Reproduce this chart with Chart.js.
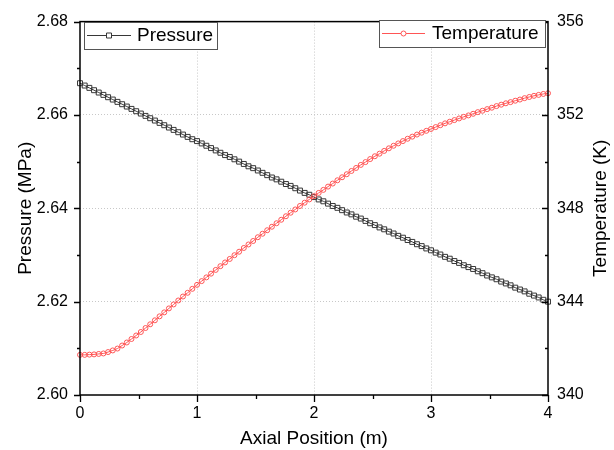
<!DOCTYPE html>
<html>
<head>
<meta charset="utf-8">
<script src="https://cdn.jsdelivr.net/npm/chart.js"></script>
<style>
  body { margin: 0; background: #fff; }
  #wrap { width: 614px; height: 450px; }
</style>
</head>
<body>
<div id="wrap"><canvas id="grafico" width="614" height="450"></canvas></div>
<script>
// posições axiais (m)
const posicoes = [
  0.00, 0.04, 0.08, 0.12, 0.16, 0.20, 0.24, 0.28, 0.32, 0.36,
  0.40, 0.44, 0.48, 0.52, 0.56, 0.60, 0.64, 0.68, 0.72, 0.76,
  0.80, 0.84, 0.88, 0.92, 0.96, 1.00, 1.04, 1.08, 1.12, 1.16,
  1.20, 1.24, 1.28, 1.32, 1.36, 1.40, 1.44, 1.48, 1.52, 1.56,
  1.60, 1.64, 1.68, 1.72, 1.76, 1.80, 1.84, 1.88, 1.92, 1.96,
  2.00, 2.04, 2.08, 2.12, 2.16, 2.20, 2.24, 2.28, 2.32, 2.36,
  2.40, 2.44, 2.48, 2.52, 2.56, 2.60, 2.64, 2.68, 2.72, 2.76,
  2.80, 2.84, 2.88, 2.92, 2.96, 3.00, 3.04, 3.08, 3.12, 3.16,
  3.20, 3.24, 3.28, 3.32, 3.36, 3.40, 3.44, 3.48, 3.52, 3.56,
  3.60, 3.64, 3.68, 3.72, 3.76, 3.80, 3.84, 3.88, 3.92, 3.96,
  4.00
];

// pressão (MPa)
const pressao = [
  2.6668, 2.6663, 2.6658, 2.6653, 2.6648, 2.6643, 2.6638, 2.6633, 2.6628, 2.6623,
  2.6618, 2.6613, 2.6608, 2.6603, 2.6598, 2.6593, 2.6588, 2.6583, 2.6578, 2.6573,
  2.6568, 2.6563, 2.6558, 2.6553, 2.6548, 2.6544, 2.6539, 2.6534, 2.6529, 2.6524,
  2.6519, 2.6514, 2.6510, 2.6505, 2.6500, 2.6495, 2.6490, 2.6486, 2.6481, 2.6476,
  2.6471, 2.6466, 2.6462, 2.6457, 2.6452, 2.6448, 2.6443, 2.6438, 2.6433, 2.6429,
  2.6424, 2.6419, 2.6415, 2.6410, 2.6405, 2.6401, 2.6396, 2.6391, 2.6387, 2.6382,
  2.6378, 2.6373, 2.6368, 2.6364, 2.6359, 2.6355, 2.6350, 2.6346, 2.6341, 2.6337,
  2.6332, 2.6328, 2.6323, 2.6319, 2.6314, 2.6310, 2.6305, 2.6301, 2.6296, 2.6292,
  2.6287, 2.6283, 2.6278, 2.6274, 2.6270, 2.6265, 2.6261, 2.6256, 2.6252, 2.6248,
  2.6243, 2.6239, 2.6235, 2.6230, 2.6226, 2.6222, 2.6217, 2.6213, 2.6209, 2.6204,
  2.6200
];

// temperatura (K)
const temperatura = [
  341.72, 341.72, 341.73, 341.74, 341.76, 341.78, 341.84, 341.91, 341.99, 342.12,
  342.25, 342.40, 342.55, 342.70, 342.87, 343.03, 343.20, 343.37, 343.54, 343.71,
  343.88, 344.05, 344.22, 344.38, 344.55, 344.72, 344.88, 345.04, 345.20, 345.36,
  345.52, 345.68, 345.83, 345.99, 346.14, 346.30, 346.45, 346.60, 346.76, 346.91,
  347.06, 347.21, 347.36, 347.51, 347.66, 347.81, 347.95, 348.10, 348.24, 348.38,
  348.52, 348.66, 348.79, 348.93, 349.06, 349.20, 349.33, 349.46, 349.60, 349.73,
  349.86, 349.98, 350.11, 350.23, 350.34, 350.46, 350.57, 350.68, 350.78, 350.88,
  350.98, 351.07, 351.16, 351.24, 351.32, 351.40, 351.48, 351.56, 351.64, 351.71,
  351.78, 351.85, 351.92, 351.98, 352.05, 352.12, 352.18, 352.25, 352.31, 352.38,
  352.44, 352.50, 352.55, 352.61, 352.66, 352.72, 352.77, 352.82, 352.86, 352.90,
  352.93
];

// ticks dos eixos
const ticksX = [0, 1, 2, 3, 4];
const ticksXMenores = [0.5, 1.5, 2.5, 3.5];
const ticksPressao = [2.60, 2.62, 2.64, 2.66, 2.68];
const ticksPressaoMenores = [2.61, 2.63, 2.65, 2.67];
const ticksTemp = [340, 344, 348, 352, 356];
const ticksTempMenores = [342, 346, 350, 354];

const FONTE = 'Arial, "Liberation Sans", sans-serif';
const COR_P = 'rgb(55, 55, 55)';
const COR_T = 'rgb(255, 85, 85)';

const dadosP = posicoes.map((x, i) => ({ x, y: pressao[i] }));
const dadosT = posicoes.map((x, i) => ({ x, y: temperatura[i] }));

// moldura, marcas de escala, título direito e legendas
const pluginMoldura = {
  id: 'moldura',
  afterDraw(chart) {
    const { ctx, chartArea: a, scales } = chart;
    ctx.save();
    ctx.strokeStyle = '#000';
    ctx.lineWidth = 1.5;
    ctx.strokeRect(a.left, a.top, a.right - a.left, a.bottom - a.top);

    ctx.lineWidth = 1.3;
    ctx.beginPath();
    const marcasY = (vals, len) => vals.forEach(v => {
      const y = Math.round(scales.y.getPixelForValue(v)) + 0.5;
      ctx.moveTo(a.left, y); ctx.lineTo(a.left - len, y);
    });
    marcasY(ticksPressao, 6); marcasY(ticksPressaoMenores, 3);
    const marcasX = (vals, len) => vals.forEach(v => {
      const x = Math.round(scales.x.getPixelForValue(v)) + 0.5;
      ctx.moveTo(x, a.bottom); ctx.lineTo(x, a.bottom + len);
    });
    marcasX(ticksX, 7); marcasX(ticksXMenores, 4);
    const marcasT = (vals, len) => vals.forEach(v => {
      const y = Math.round(scales.y1.getPixelForValue(v)) + 0.5;
      ctx.moveTo(a.right, y); ctx.lineTo(a.right - len, y);
    });
    marcasT(ticksTemp, 6); marcasT(ticksTempMenores, 3);
    ctx.stroke();

    // título do eixo direito (lido de baixo para cima)
    ctx.fillStyle = '#000';
    ctx.font = '19px ' + FONTE;
    ctx.textAlign = 'center';
    ctx.textBaseline = 'middle';
    ctx.save();
    ctx.translate(601, (a.top + a.bottom) / 2);
    ctx.rotate(-Math.PI / 2);
    ctx.fillText('Temperature (K)', 0, 0);
    ctx.restore();

    // legendas
    const legenda = (bx, by, bw, bh, lx1, lx2, my, cor, tipo, texto, tx) => {
      ctx.fillStyle = '#fff';
      ctx.fillRect(bx, by, bw, bh);
      ctx.strokeStyle = '#555';
      ctx.lineWidth = 1;
      ctx.strokeRect(bx + 0.5, by + 0.5, bw, bh);
      ctx.strokeStyle = cor;
      ctx.beginPath();
      ctx.moveTo(lx1, my + 0.5); ctx.lineTo(lx2, my + 0.5);
      ctx.stroke();
      const mx = (lx1 + lx2) / 2;
      ctx.fillStyle = '#fff';
      ctx.beginPath();
      if (tipo === 'rect') ctx.rect(mx - 2.5, my - 2, 5, 5);
      else ctx.arc(mx, my + 0.5, 2.5, 0, Math.PI * 2);
      ctx.fill(); ctx.stroke();
      ctx.fillStyle = '#000';
      ctx.font = '19px ' + FONTE;
      ctx.textAlign = 'left';
      ctx.textBaseline = 'middle';
      ctx.fillText(texto, tx, my + 1);
    };
    legenda(84, 22, 133, 27, 87, 131, 35, COR_P, 'rect', 'Pressure', 137);
    legenda(379, 20, 166, 27, 382, 425, 33, COR_T, 'circle', 'Temperature', 432);
    ctx.restore();
  }
};

const corGrade = (lista) => (c) => {
  const v = c.tick ? c.tick.value : null;
  return (v === lista[0] || v === lista[lista.length - 1]) ? 'rgba(0,0,0,0)' : 'rgb(200,200,200)';
};

new Chart(document.getElementById('grafico').getContext('2d'), {
  type: 'line',
  data: {
    datasets: [
      {
        label: 'Temperature',
        data: dadosT,
        yAxisID: 'y1',
        borderColor: COR_T,
        borderWidth: 1,
        pointStyle: 'circle',
        pointRadius: 2.5,
        pointBorderWidth: 1,
        pointBorderColor: COR_T,
        pointBackgroundColor: 'rgba(255,255,255,0)',
        tension: 0,
        clip: false
      },
      {
        label: 'Pressure',
        data: dadosP,
        yAxisID: 'y',
        borderColor: COR_P,
        borderWidth: 1,
        pointStyle: 'rect',
        pointRadius: 3.5,
        pointBorderWidth: 1,
        pointBorderColor: COR_P,
        pointBackgroundColor: 'rgba(255,255,255,0)',
        tension: 0,
        clip: false
      }
    ]
  },
  options: {
    responsive: false,
    animation: false,
    devicePixelRatio: 1,
    layout: { padding: { top: 18, left: 0, right: 0, bottom: 0 } },
    plugins: { legend: { display: false }, tooltip: { enabled: false } },
    scales: {
      x: {
        type: 'linear',
        min: 0, max: 4,
        afterFit: (s) => { s.height = 55; },
        afterBuildTicks: (s) => { s.ticks = ticksX.map(v => ({ value: v })); },
        ticks: { color: '#000', font: { family: FONTE, size: 16 }, padding: 9,
                 callback: (v) => String(v) },
        grid: { color: corGrade(ticksX), lineWidth: 1, drawTicks: false },
        border: { display: false, dash: [1, 2] },
        title: { display: true, text: 'Axial Position (m)', color: '#000',
                 font: { family: FONTE, size: 19 }, padding: { top: 0, bottom: 0 } }
      },
      y: {
        type: 'linear',
        position: 'left',
        min: 2.60, max: 2.68,
        afterFit: (s) => { s.width = 80; },
        afterBuildTicks: (s) => { s.ticks = ticksPressao.map(v => ({ value: v })); },
        ticks: { color: '#000', font: { family: FONTE, size: 16 }, padding: 12,
                 callback: (v) => Number(v).toFixed(2) },
        grid: { color: corGrade(ticksPressao), lineWidth: 1, drawTicks: false },
        border: { display: false, dash: [1, 2] },
        title: { display: true, text: 'Pressure (MPa)', color: '#000',
                 font: { family: FONTE, size: 19 }, padding: { top: 14, bottom: 0 } }
      },
      y1: {
        type: 'linear',
        position: 'right',
        min: 340, max: 356,
        afterFit: (s) => { s.width = 66; },
        afterBuildTicks: (s) => { s.ticks = ticksTemp.map(v => ({ value: v })); },
        ticks: { color: '#000', font: { family: FONTE, size: 16 }, padding: 9 },
        grid: { drawOnChartArea: false, drawTicks: false },
        border: { display: false }
      }
    }
  },
  plugins: [pluginMoldura]
});
</script>
</body>
</html>
